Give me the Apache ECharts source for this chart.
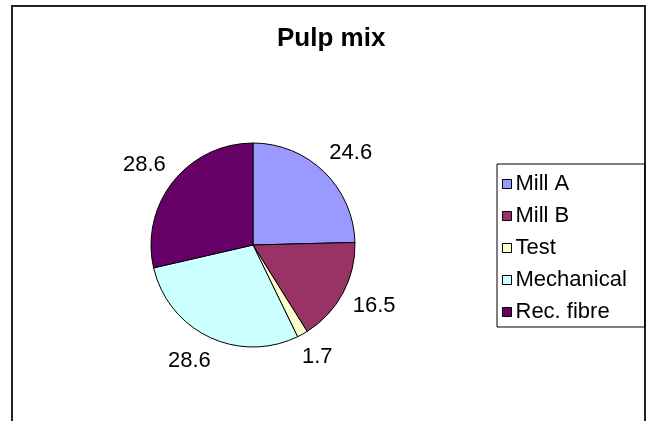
<!DOCTYPE html>
<html>
<head>
<meta charset="utf-8">
<script src="https://cdn.jsdelivr.net/npm/echarts@6/dist/echarts.min.js"></script>
<style>
html,body{margin:0;padding:0;background:#fff;}
#main{width:654px;height:421px;}
</style>
</head>
<body>
<div id="main"></div>
<script>
const categories = ['Mill A', 'Mill B', 'Test', 'Mechanical', 'Rec. fibre'];
const values = [24.6, 16.5, 1.7, 28.6, 28.6];
const colors = ['#9999FF', '#993366', '#FFFFCC', '#CCFFFF', '#660066'];
const titleText = 'Pulp mix';

const chart = echarts.init(document.getElementById('main'), null, {renderer: 'canvas'});
const font = '"Liberation Sans", Arial, sans-serif';
chart.setOption({
  animation: false,
  backgroundColor: '#fff',
  title: {
    text: titleText,
    left: 272, top: 21,
    textStyle: {fontFamily: font, fontSize: 26, fontWeight: 'bold', color: '#000'}
  },
  graphic: [{
    type: 'rect', silent: true, z: -1,
    shape: {x: 12, y: 6, width: 633, height: 440},
    style: {fill: 'none', stroke: '#222', lineWidth: 2}
  }],
  legend: {
    orient: 'vertical',
    left: 497, top: 164,
    padding: [9, 18, 4, 5],
    itemGap: 10,
    itemWidth: 9, itemHeight: 9,
    icon: 'rect',
    borderColor: '#000', borderWidth: 1,
    selectedMode: false,
    textStyle: {fontFamily: font, fontSize: 22, color: '#000', padding: [0, 0, 0, -1]},
    itemStyle: {borderColor: '#000', borderWidth: 1},
    data: categories
  },
  series: [{
    type: 'pie',
    center: [253, 245],
    radius: 102,
    startAngle: 90,
    clockwise: true,
    avoidLabelOverlap: false,
    itemStyle: {borderColor: '#000', borderWidth: 1},
    emphasis: {disabled: true},
    label: {
      show: true, position: 'outside',
      formatter: p => p.value.toFixed(1),
      fontFamily: font, fontSize: 22, color: '#000',
      distanceToLabelLine: -13
    },
    labelLine: {show: false, length: 26, length2: 0},
    data: categories.map((c, i) => ({name: c, value: values[i], itemStyle: {color: colors[i]}}))
  }]
});
</script>
</body>
</html>
